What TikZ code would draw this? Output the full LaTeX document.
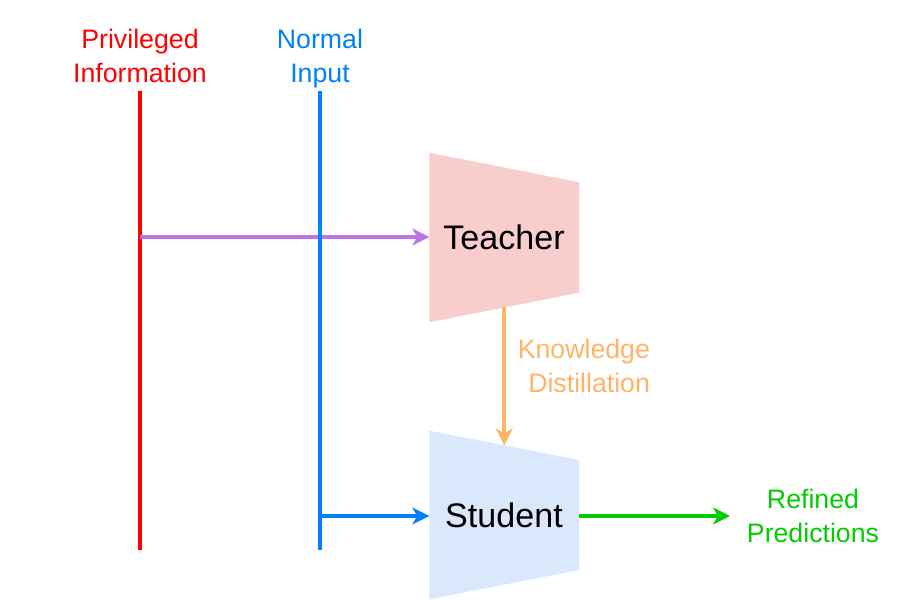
\documentclass[tikz,border=0pt]{standalone}
\usepackage{fontspec}
\setmainfont{Liberation Sans}
\usetikzlibrary{arrows.meta}
\tikzset{>={Stealth[length=0.34cm,width=0.34cm,inset=0.1cm]}}
\definecolor{privred}{RGB}{255,0,0}
\definecolor{inblue}{RGB}{0,127,255}
\definecolor{kdpurple}{RGB}{190,115,228}
\definecolor{kdorange}{RGB}{255,179,102}
\definecolor{predgreen}{RGB}{0,204,0}
\definecolor{teacherfill}{RGB}{248,206,204}
\definecolor{studentfill}{RGB}{218,232,252}

\begin{document}
\begin{tikzpicture}[line width=2.3pt,
  lbl/.style={align=center,inner sep=0pt,font=\fontsize{15.2}{19.1}\selectfont},
  net/.style={inner sep=0pt,font=\fontsize{19.4}{23}\selectfont}]
\useasboundingbox (0,0) rectangle (18,12);
% the two networks
\fill[teacherfill] (8.586,8.946) -- (11.586,8.354) -- (11.586,6.146) -- (8.586,5.554) -- cycle;
\fill[studentfill] (8.586,3.386) -- (11.586,2.8) -- (11.586,0.6) -- (8.586,0.014) -- cycle;
\node [net,anchor=base] (teacher) at (10.08,7.0) {Teacher};
\node [net,anchor=base] (student) at (10.08,1.454) {Student};
\coordinate (teacher in) at (8.586,7.26);
\coordinate (teacher out) at (10.086,5.85);
\coordinate (student top) at (10.086,3.092);
\coordinate (student in) at (8.586,1.68);
\coordinate (student out) at (11.586,1.68);
\coordinate (pred) at (14.6,1.68);
% inputs
\draw [privred] (2.8,10.17) coordinate (priv top) -- (2.8,1) coordinate (priv bot);
\coordinate (priv branch) at (2.8,7.26);
\draw [->,kdpurple] (priv branch) -- (teacher in);
\draw [inblue] (6.4,10.17) coordinate (norm top) -- (6.4,1) coordinate (norm bot);
\coordinate (norm branch) at (6.4,1.68);
\draw [->,inblue] (norm branch) -- (student in);
% distillation and output
\draw [->,kdorange] (teacher out) -- (student top);
\draw [->,predgreen] (student out) -- (pred);
% labels
\node [lbl,anchor=north,text=privred] (priv) at (2.8,11.45) {Privileged\\Information};
\node [lbl,anchor=north,text=inblue] (norm) at (6.4,11.45) {Normal\\Input};
\node [lbl,anchor=north east,align=right,text=kdorange] (kd) at (13.04,5.25) {Knowledge\\Distillation};
\node [lbl,anchor=north,text=predgreen] (refined) at (16.26,2.25) {Refined\\Predictions};
\end{tikzpicture}
\end{document}
